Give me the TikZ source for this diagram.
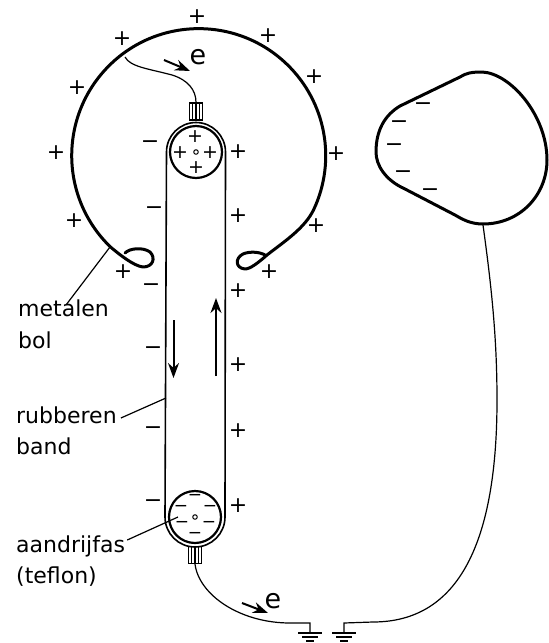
\documentclass[tikz,border=0pt]{standalone}
\usepackage{fontspec}
\setmainfont{DejaVu Sans}
\usepackage{tikz}
\usetikzlibrary{positioning}
\usetikzlibrary{calc,arrows.meta}

\begin{document}
\begin{tikzpicture}[x=1pt, y=-1pt,
Pnode/.style={inner sep=0pt, font=\fontsize{22}{22}\selectfont},
Pinner/.style={inner sep=0pt, font=\fontsize{19}{19}\selectfont},
Mnode/.style={inner sep=0pt, font=\fontsize{22}{22}\selectfont},
Minner/.style={inner sep=0pt, font=\fontsize{17}{17}\selectfont},
Wheel/.style={circle, draw, line width=2.2pt, minimum size=52pt, inner sep=0pt},
Axle/.style={circle, draw, line width=1pt, minimum size=4.5pt, inner sep=0pt},
Brush/.style={draw, line width=1.2pt, minimum width=13pt, minimum height=17pt, inner sep=0pt},
Lab/.style={anchor=west, inner sep=0pt, text height=16pt, text depth=5pt, font=\fontsize{22}{22}\selectfont},
Elec/.style={inner sep=0pt, font=\fontsize{27}{27}\selectfont},
Flow/.style={line width=2pt, -{Stealth[length=15pt, width=11pt]}},
Wire/.style={line width=1.2pt},
Skin/.style={line width=3pt, line cap=round, line join=round}
]
\useasboundingbox (0,0) rectangle (549,643);

%Wheels
\node[Wheel] (W1) at (196,152) {};
\node[Wheel] (W2) at (195,517) {};
\node[Axle] (A1) at (W1) {};
\node[Axle] (A2) at (W2) {};
\node[Brush] (B1) at (196,111.5) {};
\node[Brush] (B2) at (195,555) {};

%Charges
\foreach \x/\y [count=\i] in {197/17,268/36,314/77,336/154,316/226,269/272,122/39,77/88,56/153,74/221,123/272,238/152,238/216,238/291,238/365,238/431,238/506}
  \node[Pnode] (P\i) at (\x,\y) {+};
\foreach \x/\y [count=\i] in {150/145,154/211,151/288,153/351,153/431,153/504,423/107,399/125,394/148,403/175,430/193}
  \node[Mnode] (M\i) at (\x,\y) {−};
\foreach \x/\y [count=\i] in {195/137,180/153,210/153,196/168}
  \node[Pinner] (PI\i) at (\x,\y) {+};
\foreach \x/\y [count=\i] in {195/497,181/508,210/508,182/524,209/524,195/535}
  \node[Minner] (MI\i) at (\x,\y) {−};

%Labels
\node[Lab] (metalen) at (18,311) {metalen};
\node[Lab] (bol) [below=32pt of metalen.west, anchor=west] {bol};
\node[Lab] (rubberen) at (16,418) {rubberen};
\node[Lab] (band) [below=31pt of rubberen.west, anchor=west] {band};
\node[Lab] (aandrijfas) at (16,547) {aandrijfas};
\node[Lab] (teflon) [below=31pt of aandrijfas.west, anchor=west] {(teflon)};
\node[Elec] (e1) at (198,57) {e};
\node[Elec] (e2) at (273,601) {e};

%Ends of wires
\coordinate (C1) at (125,57);
\coordinate (C2) at (310,623);
\coordinate (C3) at (344,623);
\coordinate (C4) at (483,225);
\coordinate (C5) at (110,247);
\coordinate (C6) at (166,398);
\coordinate (C7) at (178,517);
\coordinate (G1) at (310,633);
\coordinate (G2) at (344,633);

%Band
\draw[line width=1.6pt] ($(W1)+(-29.5,0)$) arc (180:360:29.5) -- ($(W2)+(30,0)$) arc (0:180:30) -- cycle;

%Brushes
\foreach \d in {-3.2,0,3.2} {
  \draw[Wire] ($(B1.north)+(\d,0)$) -- ($(B1.south)+(\d,0)$);
  \draw[Wire] ($(B2.north)+(\d,0)$) -- ($(B2.south)+(\d,0)$);
}

%Sphere
\draw[Skin] (125,253) .. controls (130,248) and (143,247) .. (150,252)
  .. controls (156,258) and (153,267) .. (143,267)
  .. controls (134,266) and (120,255) .. (110.5,247)
  arc (134:385:127)
  .. controls (305,228) and (285,241) .. (267,255)
  .. controls (258,263) and (250,269) .. (245,269)
  .. controls (235,268) and (235,258) .. (243,254)
  .. controls (250,251) and (260,252) .. (265,255);

%Other ball
\draw[Skin] (460,77) .. controls (466,73) and (472,72) .. (482,72)
  .. controls (510,73) and (547,115) .. (547,160)
  .. controls (547,195) and (520,224) .. (483,224)
  .. controls (470,224) and (462,219) .. (455,215)
  -- (405,189)
  .. controls (385,180) and (376,165) .. (376,152)
  .. controls (376,130) and (385,115) .. (400,106) -- cycle;

%Wires
\draw[Wire] (C1) .. controls (130,67) and (150,69) .. (172,75) .. controls (188,80) and (196,90) .. (B1.north);
\draw[Wire] (B2.south) .. controls (199,595) and (240,623) .. (290,623) -- (C2) -- (G1);
\draw[Wire] (C4) .. controls (492,290) and (497,340) .. (497,400)
  .. controls (497,540) and (460,622) .. (373,622) -- (C3) -- (G2);

%Grounds
\foreach \g in {G1,G2} {
  \draw[line width=1.4pt] ($(\g)+(-12,0)$) -- ($(\g)+(12,0)$);
  \draw[line width=1.4pt] ($(\g)+(-8,4)$) -- ($(\g)+(8,4)$);
  \draw[line width=1.4pt] ($(\g)+(-4,8)$) -- ($(\g)+(4,8)$);
}

%Arrows
\draw[Flow] (164,60) -- (190,71);
\draw[Flow] (242,603) -- (268,613);
\draw[Flow] (173.5,320) -- (173.5,378);
\draw[Flow] (216,376) -- (216,298);

%Leaders
\draw[Wire] (metalen.north) ++(3,4) -- (C5);
\draw[Wire] (rubberen.east) ++(4,0) -- (C6);
\draw[Wire] (aandrijfas.east) ++(2,-7) -- (C7);
\end{tikzpicture}
\end{document}
